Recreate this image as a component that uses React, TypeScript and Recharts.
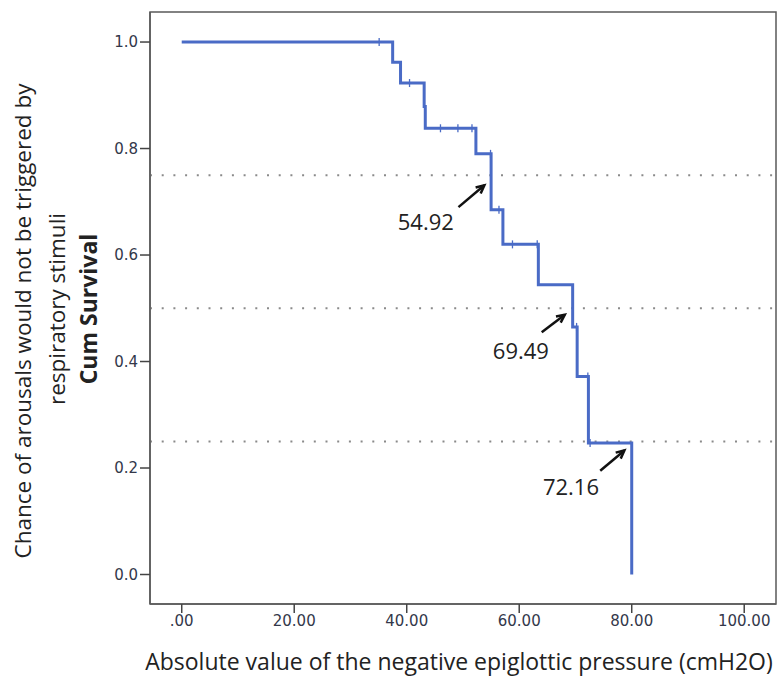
import React from 'react';
import {
  ComposedChart, Line, Scatter, XAxis, YAxis, ReferenceLine, ReferenceDot, ReferenceArea,
} from 'recharts';

// Kaplan-Meier step points (pressure, cumulative survival)
const survivalSteps = [
  { x: 0, y: 1.0 },
  { x: 37.5, y: 0.962 },
  { x: 38.9, y: 0.923 },
  { x: 43.1, y: 0.879 },
  { x: 43.3, y: 0.838 },
  { x: 52.3, y: 0.79 },
  { x: 55.0, y: 0.685 },
  { x: 57.1, y: 0.62 },
  { x: 63.4, y: 0.544 },
  { x: 69.5, y: 0.465 },
  { x: 70.3, y: 0.372 },
  { x: 72.3, y: 0.247 },
  { x: 80.0, y: 0.0 },
];

// censored observations (small vertical ticks)
const censored = [
  { x: 35.1, y: 1.0 },
  { x: 40.5, y: 0.923 },
  { x: 46.0, y: 0.838 },
  { x: 49.1, y: 0.838 },
  { x: 51.6, y: 0.838 },
  { x: 54.9, y: 0.79 },
  { x: 56.4, y: 0.685 },
  { x: 58.8, y: 0.62 },
  { x: 63.2, y: 0.62 },
  { x: 70.2, y: 0.465 },
  { x: 72.2, y: 0.372 },
  { x: 72.6, y: 0.247 },
];

const quartileLines = [0.75, 0.5, 0.25];

const annotations = [
  { text: '54.92', tail: { x: 49.2, y: 0.69 }, tip: { x: 53.8, y: 0.731 }, label: { x: 43.4, y: 0.663 } },
  { text: '69.49', tail: { x: 64.0, y: 0.455 }, tip: { x: 68.1, y: 0.488 }, label: { x: 60.3, y: 0.421 } },
  { text: '72.16', tail: { x: 74.4, y: 0.195 }, tip: { x: 78.7, y: 0.233 }, label: { x: 69.2, y: 0.167 } },
];

const xTicks = [0, 20, 40, 60, 80, 100];
const yTicks = [0, 0.2, 0.4, 0.6, 0.8, 1.0];

const xDomain = [-5.64, 105.65];
const yDomain = [-0.0554, 1.0564];

const BLUE = '#4a6bc6';
const FRAME = '#5a5a5a';
const tickStyle = { fontFamily: 'DejaVu Sans', fontSize: 15, fill: '#33384a' };

const CensorTick = (props: any) => {
  const { cx, cy } = props;
  return <line x1={cx} x2={cx} y1={cy - 4} y2={cy + 4} stroke={BLUE} strokeWidth={1.3} />;
};

const Arrow = (props: any) => {
  const { x1, y1, x2, y2 } = props;
  const ang = Math.atan2(y2 - y1, x2 - x1);
  const h = 9;
  const a1 = ang + Math.PI - 0.45;
  const a2 = ang + Math.PI + 0.45;
  return (
    <g>
      <line x1={x1} y1={y1} x2={x2} y2={y2} stroke="#111" strokeWidth={2.5} />
      <polyline
        points={`${x2 + h * Math.cos(a1)},${y2 + h * Math.sin(a1)} ${x2},${y2} ${x2 + h * Math.cos(a2)},${y2 + h * Math.sin(a2)}`}
        fill="none"
        stroke="#111"
        strokeWidth={2.5}
      />
    </g>
  );
};

const fmtX = (v: number) => (v === 0 ? '.00' : v.toFixed(2));

export default function App() {
  return (
    <div style={{ position: 'absolute', left: 0, top: 0, width: 784, height: 681, background: '#fff' }}>
      <ComposedChart width={784} height={681} margin={{ top: 12, right: 8, bottom: 37, left: 0 }}>
        <XAxis
          type="number"
          dataKey="x"
          domain={xDomain}
          ticks={xTicks}
          tickFormatter={fmtX}
          allowDataOverflow
          height={40}
          tick={tickStyle}
          tickSize={9}
          axisLine={{ stroke: FRAME, strokeWidth: 1.5 }}
          tickLine={{ stroke: '#444', strokeWidth: 1.5 }}
        />
        <YAxis
          type="number"
          dataKey="y"
          domain={yDomain}
          ticks={yTicks}
          tickFormatter={(v: number) => v.toFixed(1)}
          allowDataOverflow
          width={150}
          tick={tickStyle}
          tickSize={10}
          axisLine={{ stroke: FRAME, strokeWidth: 1.5 }}
          tickLine={{ stroke: '#444', strokeWidth: 1.5 }}
        />
        {/* plot frame */}
        <ReferenceArea
          x1={xDomain[0]}
          x2={xDomain[1]}
          y1={yDomain[0]}
          y2={yDomain[1]}
          fill="none"
          fillOpacity={0}
          stroke={FRAME}
          strokeWidth={1.5}
          ifOverflow="visible"
        />
        {quartileLines.map((q) => (
          <ReferenceLine key={q} y={q} stroke="#8a8a8a" strokeWidth={2} strokeDasharray="2 9.7" />
        ))}
        <Line
          data={survivalSteps}
          dataKey="y"
          type="stepAfter"
          stroke={BLUE}
          strokeWidth={3}
          dot={false}
          activeDot={false}
          isAnimationActive={false}
        />
        <Scatter data={censored} dataKey="y" shape={<CensorTick />} isAnimationActive={false} />
        {annotations.map((a) => (
          <ReferenceLine key={a.text} segment={[a.tail, a.tip]} shape={(p: any) => <Arrow {...p} />} />
        ))}
        {annotations.map((a) => (
          <ReferenceDot
            key={'l' + a.text}
            x={a.label.x}
            y={a.label.y}
            r={0}
            shape={(p: any) => (
              <text
                x={p.cx}
                y={p.cy}
                textAnchor="middle"
                dominantBaseline="central"
                fontFamily="Open Sans"
                fontSize={22}
                fill="#222"
              >
                {a.text}
              </text>
            )}
          />
        ))}
      </ComposedChart>
      <svg
        width={784}
        height={681}
        style={{ position: 'absolute', left: 0, top: 0, pointerEvents: 'none' }}
        fontFamily="Open Sans"
        fill="#222"
      >
        <text x={459} y={670} textAnchor="middle" fontSize={23}>
          Absolute value of the negative epiglottic pressure (cmH2O)
        </text>
        <text x={22} y={321} transform="rotate(-90 22 321)" textAnchor="middle" dominantBaseline="central" fontSize={22.5}>
          Chance of arousals would not be triggered by
        </text>
        <text x={56} y={309} transform="rotate(-90 56 309)" textAnchor="middle" dominantBaseline="central" fontSize={22.5}>
          respiratory stimuli
        </text>
        <text x={88} y={309} transform="rotate(-90 88 309)" textAnchor="middle" dominantBaseline="central" fontSize={23} fontWeight="bold">
          Cum Survival
        </text>
      </svg>
    </div>
  );
}
